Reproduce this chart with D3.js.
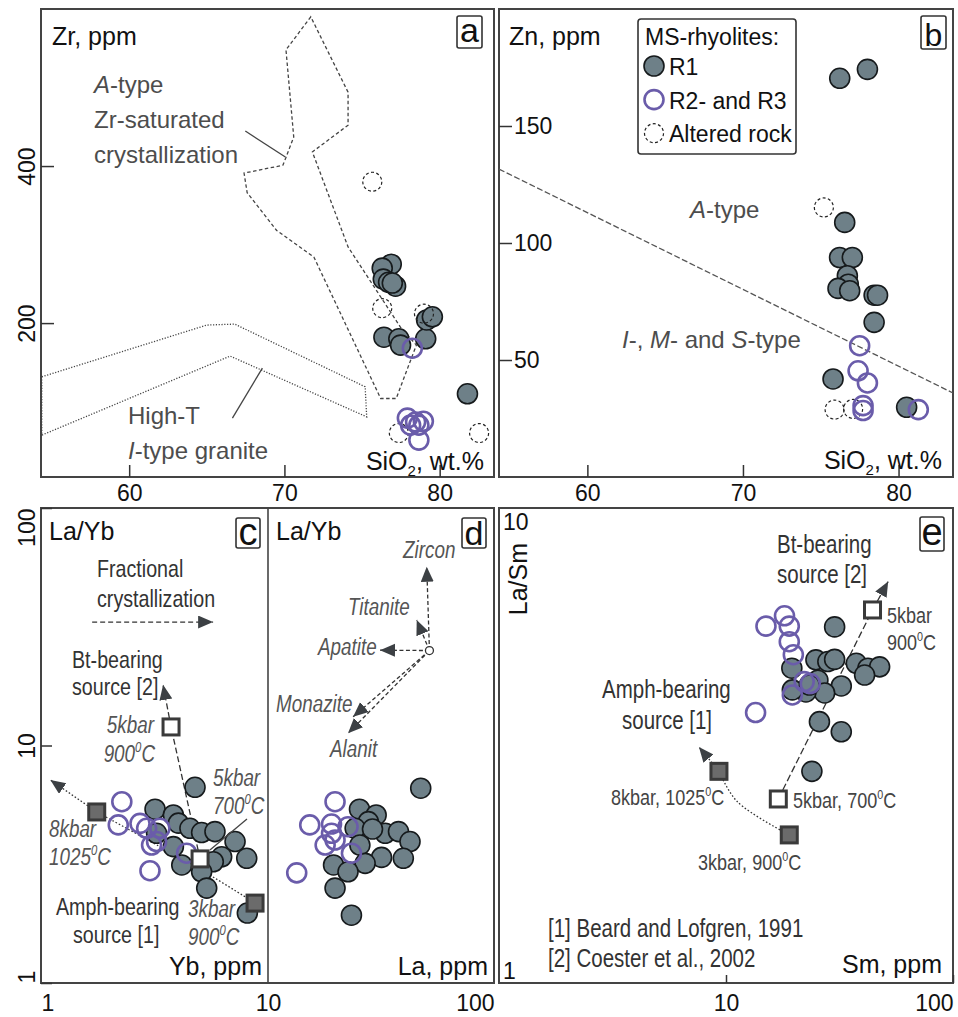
<!DOCTYPE html>
<html>
<head>
<meta charset="utf-8">
<script src="https://cdn.jsdelivr.net/npm/d3@7"></script>
<style>
  body { margin: 0; background: #fff; }
  svg { display: block; }
</style>
</head>
<body>
<script>
// ---- values ----
// panel a: SiO2 (wt.%) vs Zr (ppm)
const aR1 = [[76.88,275],[76.30,270],[76.37,256],[76.71,252],[77.16,247],[76.95,251],[76.41,182],[77.37,180],[77.48,172],[79.10,180],[79.16,204],[79.53,208],[81.79,110]];
const aR2 = [[78.24,168],[77.92,79],[78.45,74],[78.95,75],[78.66,70],[78.13,70],[78.66,51]];
const aAlt = [[75.66,380],[76.30,219],[78.99,212],[77.37,60],[82.54,60]];
const aZrSat = [[71.7,590],[70.1,548],[70.6,437],[70.1,411],[69.9,401],[67.4,391],[67.6,366],[69.5,318],[71.9,284],[76.2,104],[77.2,104],[78.5,172],[77.5,194],[74.1,297],[71.8,418],[74.1,452],[74.1,494]];
const aHighT = [[54.37,131.6],[65.0,197.5],[66.8,198.7],[75.2,118.9],[75.3,80.6],[66.5,158],[54.37,57.3]];
const aLeaderA = [[67.48,444.6],[70.06,411.5]];
const aLeaderHT = [[66.65,79],[68.58,142.7]];

// panel b: SiO2 (wt.%) vs Zn (ppm)
const bR1 = [[76.22,170.4],[78.0,174.2],[76.54,108.8],[76.21,93.8],[77.03,93.8],[76.71,86],[76.77,82.4],[76.11,80.6],[76.86,79.6],[78.43,77.7],[78.65,77.7],[78.43,66.1],[75.79,41.9],[80.52,29.8]];
const bR2 = [[77.5,56.1],[77.4,45.4],[78.0,40.2],[77.72,30.5],[77.72,28.4],[81.27,28.8]];
const bAlt = [[75.2,115.2],[75.89,28.8],[77.08,29.1]];
const bDivide = [[54.32,131.6],[83.5,35.9]];

// panel c: Yb (ppm) vs La/Yb
const cR1 = [[4.77,6.67],[3.18,5.39],[3.83,5.10],[4.03,4.71],[4.53,4.48],[5.10,4.30],[5.84,4.34],[7.16,3.94],[3.83,3.75],[6.25,3.40],[8.06,3.35],[4.17,3.14],[5.74,3.24],[5.10,2.94],[5.37,2.51],[8.11,1.97],[3.23,4.27]];
const cR2 = [[2.27,5.80],[2.19,4.63],[2.73,4.70],[2.92,4.48],[3.34,4.48],[3.23,3.94],[3.07,3.81],[4.38,3.52],[3.02,2.97]];
const cFilled = [[1.76,5.25],[8.77,2.17]];
const cOpen = [[5.02,3.33],[3.74,11.97]];
const cAmphPath = [[1.76,5.25],[3.34,3.75],[5.37,2.90],[8.77,2.17]];
const cAmphArrow = [[1.76,5.25],[1.10,7.16]];
const cBtPath = [[5.02,3.33],[3.74,11.97]];
const cBtArrow = [[3.74,11.97],[3.45,18.0]];
const cFracArrow = [[1.68,33.1],[5.73,33.1]];
const cLeader = [[8.08,4.90],[5.55,3.63]];

// panel d: La (ppm) vs La/Yb
const dR1 = [[47.4,6.61],[25.4,5.39],[30.1,5.10],[27.8,4.78],[24.3,4.48],[33.0,4.27],[37.8,4.34],[42.5,3.94],[25.5,3.81],[39.7,3.35],[31.8,3.38],[19.5,3.14],[26.9,3.19],[22.6,2.94],[19.8,2.51],[23.4,1.93],[29.0,4.45]];
const dR2 = [[19.8,5.80],[15.3,4.63],[19.1,4.67],[22.6,4.55],[17.9,3.81],[19.8,4.0],[23.4,3.52],[13.4,2.91],[19.1,4.27]];
const dOrigin = [51.8,25.1];
const dMinerals = ["Zircon","Titanite","Apatite","Monazite","Alanit"];
const dTips = [[50.4,56.6],[45.5,33.8],[31.3,25.2],[23.8,13.2],[22.6,11.25]];

// panel e: Sm (ppm) vs La/Sm
const eR1 = [[30.1,5.62],[24.9,4.79],[28.1,4.75],[30.1,4.80],[37.5,4.71],[42.2,4.60],[47.5,4.63],[40.8,4.45],[19.5,4.60],[25.4,4.34],[32.2,4.22],[27.2,4.08],[22.5,4.10],[19.6,4.14],[25.8,3.55],[32.2,3.38],[23.9,2.79],[23.3,4.24]];
const eR2 = [[15.0,5.64],[18.1,5.93],[19.0,5.64],[19.0,5.23],[19.8,4.91],[22.1,4.31],[23.5,4.27],[19.6,4.04],[13.5,3.71]];
const eFilled = [[9.31,2.79],[19.0,2.05]];
const eOpen = [[17.0,2.44],[44.2,6.10]];
const eAmphPath = [[19.0,2.05],[11.2,2.41],[9.31,2.79]];
const eAmphArrow = [[9.31,2.79],[7.6,3.14]];
const eBtPath = [[17.0,2.44],[44.2,6.10]];
const eBtArrow = [[44.2,6.10],[51.8,7.0]];

const legendItems = [["R1","r1"],["R2- and R3","r2"],["Altered rock","alt"]];

// ---- drawing ----
const FONT = "'Liberation Sans', Arial, Helvetica, sans-serif";
const DOT = "#6e8088", PURPLE = "#6a5caa", INK = "#333";

const svg = d3.select("body").append("svg").attr("width", 958).attr("height", 1017);

svg.append("defs").append("marker").attr("id", "arrow")
  .attr("markerUnits", "userSpaceOnUse").attr("markerWidth", 16).attr("markerHeight", 14)
  .attr("refX", 15).attr("refY", 6.5).attr("orient", "auto")
  .append("path").attr("d", "M0,0L15,6.5L0,13Z").attr("fill", "#3c4044");

const xA = d3.scaleLinear().domain([54.32, 83.5]).range([41, 494]);
const yA = d3.scaleLinear().domain([4, 600]).range([477, 9]);
const xB = d3.scaleLinear().domain([54.32, 83.5]).range([499, 953]);
const yB = d3.scaleLinear().domain([0, 200]).range([477, 9]);
const xC = d3.scaleLog().domain([1, 10]).range([41, 268]);
const xD = d3.scaleLog().domain([10, 100]).range([268, 494]);
const yCD = d3.scaleLog().domain([1, 100]).range([983, 508]);
const xE = d3.scaleLog().domain([1, 100]).range([499, 953]);
const yE = d3.scaleLog().domain([1, 10]).range([983, 508]);

// narrow labels: no condensed face is installed, so squeeze the normal one
function label(x, y, parts, o = {}) {
  const size = o.size || 24;
  const t = svg.append("text")
    .attr("font-family", FONT)
    .attr("font-size", size).attr("fill", o.color || "#111")
    .attr("text-anchor", o.anchor || "start");
  if (o.narrow) t.attr("x", 0).attr("y", 0).attr("transform", `translate(${x},${y}) scale(0.82,1)`);
  else t.attr("x", x).attr("y", y);
  if (o.italic) t.attr("font-style", "italic");
  if (o.rotate) t.attr("transform", `rotate(${o.rotate},${x},${y})`);
  let shift = 0;
  (typeof parts === "string" ? [[parts]] : parts).forEach(([s, k]) => {
    const ts = t.append("tspan").text(s);
    let target = 0;
    if (k === "i") ts.attr("font-style", "italic");
    if (k === "sub") { ts.attr("font-size", size * 0.6); target = size * 0.25; }
    if (k === "sup") { ts.attr("font-size", size * 0.6); target = -size * 0.42; }
    if (target !== shift) { ts.attr("dy", target - shift); shift = target; }
  });
  return t;
}

function line(data, x, y, o = {}) {
  const p = svg.append("path").datum(data)
    .attr("d", d3.line().x(d => x(d[0])).y(d => y(d[1])).curve(o.curve || d3.curveLinear))
    .attr("fill", "none").attr("stroke", o.color || INK).attr("stroke-width", o.width || 1.3);
  if (o.dash) p.attr("stroke-dasharray", o.dash);
  if (o.arrow) p.attr("marker-end", "url(#arrow)");
  if (o.closed) p.attr("d", p.attr("d") + "Z");
  return p;
}

function styleDots(sel, kind) {
  if (kind === "r1") sel.attr("r", 10).attr("fill", DOT).attr("stroke", "#161a1c").attr("stroke-width", 1.6);
  if (kind === "r2") sel.attr("r", 9.5).attr("fill", "none").attr("stroke", PURPLE).attr("stroke-width", 2.6);
  if (kind === "alt") sel.attr("r", 9.5).attr("fill", "none").attr("stroke", "#222").attr("stroke-width", 1.2).attr("stroke-dasharray", "3,2.4");
}

function dots(data, x, y, kind) {
  svg.append("g").selectAll("circle").data(data).join("circle")
    .attr("cx", d => x(d[0])).attr("cy", d => y(d[1])).call(styleDots, kind);
}

function squares(data, x, y, filled) {
  svg.append("g").selectAll("rect").data(data).join("rect")
    .attr("x", d => x(d[0]) - 8).attr("y", d => y(d[1]) - 8)
    .attr("width", 16).attr("height", 16)
    .attr("fill", filled ? "#6b6b6b" : "#fff").attr("stroke", "#3a3a3a").attr("stroke-width", 3);
}

function frame(x0, y0, x1, y1) {
  svg.append("rect").attr("x", x0).attr("y", y0).attr("width", x1 - x0).attr("height", y1 - y0)
    .attr("fill", "none").attr("stroke", "#444").attr("stroke-width", 2);
}

function tag(x, y, w, h, letter, size, base) {
  svg.append("rect").attr("x", x).attr("y", y).attr("width", w).attr("height", h).attr("rx", 2)
    .attr("fill", "#fff").attr("stroke", INK).attr("stroke-width", 1.6);
  label(x + w / 2, y + base, letter, { size: size, anchor: "middle" });
}

function styleAxis(g) {
  g.select(".domain").remove();
  g.selectAll(".tick line").attr("stroke", INK).attr("stroke-width", 1.5);
  g.selectAll(".tick text").attr("font-family", FONT).attr("font-size", 23).attr("fill", "#111");
}

// frames
frame(41, 9, 494, 477);
frame(499, 9, 953, 477);
frame(41, 508, 494, 983);
svg.append("line").attr("x1", 268).attr("x2", 268).attr("y1", 508).attr("y2", 983).attr("stroke", "#444").attr("stroke-width", 1.6);
frame(499, 508, 953, 983);

// axes, panel a
svg.append("g").attr("transform", "translate(0,477)")
  .call(d3.axisBottom(xA).tickValues([60, 70, 80]).tickSize(-12).tickPadding(8)).call(styleAxis);
svg.append("g").attr("transform", "translate(41,0)")
  .call(d3.axisLeft(yA).tickValues([200, 400]).tickSize(-13)).call(styleAxis)
  .selectAll(".tick text").attr("transform", "rotate(-90)").attr("x", 0).attr("y", -6).attr("dy", 0).attr("text-anchor", "middle");

// axes, panel b
svg.append("g").attr("transform", "translate(0,477)")
  .call(d3.axisBottom(xB).tickValues([60, 70, 80]).tickSize(-12).tickPadding(8)).call(styleAxis);
svg.append("g").attr("transform", "translate(499,0)")
  .call(d3.axisLeft(yB).tickValues([50, 100, 150]).tickSize(-13)).call(styleAxis)
  .selectAll(".tick text").attr("x", 15).attr("text-anchor", "start");

// axes, panels c and d
svg.append("g").attr("transform", "translate(41,0)")
  .call(d3.axisLeft(yCD).tickValues([1, 10, 100]).tickFormat(d3.format("d")).tickSize(-11)).call(styleAxis)
  .selectAll(".tick text").attr("transform", "rotate(-90)").attr("x", 0).attr("y", -6).attr("dy", 0)
  .attr("text-anchor", d => d === 100 ? "end" : d === 1 ? "start" : "middle");
svg.append("g").attr("transform", "translate(0,983)")
  .call(d3.axisBottom(xC).tickValues([1, 10]).tickFormat(d3.format("d")).tickSize(0).tickPadding(12)).call(styleAxis)
  .selectAll(".tick text").attr("text-anchor", d => d === 1 ? "start" : "middle");
svg.append("g").attr("transform", "translate(0,983)")
  .call(d3.axisBottom(xD).tickValues([100]).tickFormat(d3.format("d")).tickSize(0).tickPadding(12)).call(styleAxis)
  .selectAll(".tick text").attr("text-anchor", "end");

// axes, panel e
svg.append("g").attr("transform", "translate(0,983)")
  .call(d3.axisBottom(xE).tickValues([10, 100]).tickFormat(d3.format("d")).tickSize(-8).tickPadding(12)).call(styleAxis)
  .selectAll(".tick text").attr("text-anchor", d => d === 100 ? "end" : "middle");
svg.append("g").attr("transform", "translate(499,0)")
  .call(d3.axisLeft(yE).tickValues([1, 10]).tickFormat(d3.format("d")).tickSize(0)).call(styleAxis)
  .selectAll(".tick text").attr("x", 4).attr("text-anchor", "start").attr("dy", d => d === 10 ? "0.95em" : "-0.2em");

// ---- panel a ----
line(aZrSat, xA, yA, { dash: "3.5,2.5", color: "#444", closed: true });
line(aHighT, xA, yA, { dash: "1.2,1.6", color: "#444", closed: true });
line(aLeaderA, xA, yA, { color: "#444" });
line(aLeaderHT, xA, yA, { color: "#444" });
dots(aR1, xA, yA, "r1");
dots(aAlt, xA, yA, "alt");
dots(aR2, xA, yA, "r2");
label(52, 45, "Zr, ppm", { size: 25 });
const GRAY = "#4d4d4d";
label(94, 93, [["A", "i"], ["-type"]], { color: GRAY });
label(94, 128, "Zr-saturated", { color: GRAY });
label(94, 163, "crystallization", { color: GRAY });
label(128, 424, "High-T", { color: GRAY });
label(128, 459, [["I", "i"], ["-type granite"]], { color: GRAY });
label(484, 470, [["SiO"], ["2", "sub"], [", wt.%"]], { size: 25, anchor: "end" });
tag(457, 16, 25, 32, "a", 34, 26);

// ---- panel b ----
line(bDivide, xB, yB, { dash: "6,2.5", color: "#555" });
dots(bR1, xB, yB, "r1");
dots(bAlt, xB, yB, "alt");
dots(bR2, xB, yB, "r2");
label(509, 45, "Zn, ppm", { size: 25 });
label(690, 218, [["A", "i"], ["-type"]], { color: GRAY });
label(622, 348, [["I", "i"], ["-, "], ["M", "i"], ["- and "], ["S", "i"], ["-type"]], { color: GRAY });
label(942, 469, [["SiO"], ["2", "sub"], [", wt.%"]], { size: 25, anchor: "end" });
tag(921, 16, 25, 33, "b", 32, 30);

svg.append("rect").attr("x", 638).attr("y", 19).attr("width", 158).attr("height", 135).attr("rx", 3)
  .attr("fill", "#fff").attr("stroke", INK).attr("stroke-width", 1.6);
label(645, 45, "MS-rhyolites:", { size: 23 });
legendItems.forEach(([name, kind], i) => {
  const cy = 66 + i * 33.6;
  svg.append("circle").attr("cx", 654).attr("cy", cy).call(styleDots, kind);
  label(669, cy + 9, name, { size: 23 });
});

// ---- panel c ----
line(cFracArrow, xC, yCD, { dash: "5,3", arrow: true });
line(cAmphPath, xC, yCD, { dash: "1.6,2", curve: d3.curveCatmullRom });
line(cAmphArrow, xC, yCD, { dash: "1.6,2", arrow: true });
line(cBtPath, xC, yCD, { dash: "6,3" });
line(cBtArrow, xC, yCD, { dash: "6,3", arrow: true });
dots(cR1, xC, yCD, "r1");
dots(cR2, xC, yCD, "r2");
line(cLeader, xC, yCD, { color: "#444" });
squares(cFilled, xC, yCD, true);
squares(cOpen, xC, yCD, false);
label(49, 540, "La/Yb", { size: 25 });
tag(236, 518, 24, 30, "c", 38, 27);
const N = { narrow: true, size: 24, color: "#333" };
const NI = { narrow: true, size: 23, color: "#555", italic: true };
label(97, 577, "Fractional", N);
label(97, 607, "crystallization", N);
label(72, 668, "Bt-bearing", N);
label(72, 695, "source [2]", N);
label(154, 733, "5kbar", { ...NI, anchor: "end" });
label(155, 762, [["900"], ["0", "sup"], ["C"]], { ...NI, anchor: "end" });
label(213, 786, "5kbar", NI);
label(213, 814, [["700"], ["0", "sup"], ["C"]], NI);
label(49, 837, "8kbar", NI);
label(49, 865, [["1025"], ["0", "sup"], ["C"]], NI);
label(56, 915, "Amph-bearing", N);
label(73, 943, "source [1]", N);
label(188, 917, "3kbar", NI);
label(188, 945, [["900"], ["0", "sup"], ["C"]], NI);
label(262, 975, "Yb, ppm", { size: 25, anchor: "end" });

// ---- panel d ----
dTips.forEach(t => line([dOrigin, t], xD, yCD, { dash: "4,2.5", arrow: true }));
svg.append("circle").attr("cx", xD(dOrigin[0])).attr("cy", yCD(dOrigin[1])).attr("r", 4)
  .attr("fill", "#fff").attr("stroke", INK).attr("stroke-width", 1.3);
dots(dR1, xD, yCD, "r1");
dots(dR2, xD, yCD, "r2");
label(276, 540, "La/Yb", { size: 25 });
tag(462, 518, 24, 30, "d", 34, 27);
const mineralPos = [[403, 558], [348, 615], [318, 655], [276, 712], [330, 757]];
dMinerals.forEach((m, i) => label(mineralPos[i][0], mineralPos[i][1], m, NI));
label(488, 975, "La, ppm", { size: 25, anchor: "end" });

// ---- panel e ----
line(eAmphPath, xE, yE, { dash: "1.6,2", curve: d3.curveCatmullRom });
line(eAmphArrow, xE, yE, { dash: "1.6,2", arrow: true });
line(eBtPath, xE, yE, { dash: "7,3" });
line(eBtArrow, xE, yE, { dash: "7,3", arrow: true });
dots(eR1, xE, yE, "r1");
dots(eR2, xE, yE, "r2");
squares(eFilled, xE, yE, true);
squares(eOpen, xE, yE, false);
label(527, 543, "La/Sm", { size: 25, anchor: "end", rotate: -90 });
tag(920, 517, 24, 34, "e", 38, 28);
const NE = { narrow: true, size: 25, color: "#333" };
const NM = { narrow: true, size: 22, color: "#444" };
label(777, 553, "Bt-bearing", NE);
label(777, 583, "source [2]", NE);
label(887, 623, "5kbar", NM);
label(887, 650, [["900"], ["0", "sup"], ["C"]], NM);
label(602, 698, "Amph-bearing", NE);
label(622, 729, "source [1]", NE);
label(611, 805, [["8kbar, 1025"], ["0", "sup"], ["C"]], NM);
label(793, 808, [["5kbar, 700"], ["0", "sup"], ["C"]], NM);
label(698, 870, [["3kbar, 900"], ["0", "sup"], ["C"]], NM);
label(548, 937, "[1] Beard and Lofgren, 1991", NE);
label(548, 967, "[2] Coester et al., 2002", NE);
label(942, 973, "Sm, ppm", { size: 25, anchor: "end" });
</script>
</body>
</html>
